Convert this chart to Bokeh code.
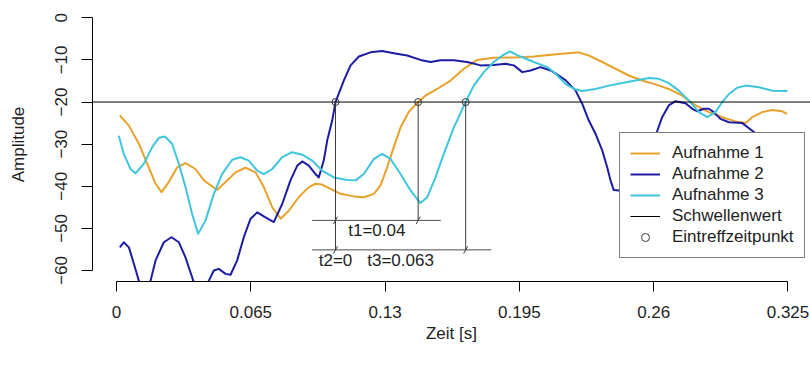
from bokeh.plotting import figure
from bokeh.models import Range1d, FixedTicker, Legend, LegendItem
from bokeh.embed import file_html
from bokeh.resources import INLINE
from bokeh.core.properties import value

# --- Aufnahme 1 (orange) ---
zeit_1 = [0.0016, 0.006, 0.0108, 0.0149, 0.0189, 0.0218, 0.0253, 0.0294, 0.0334, 0.0382,
          0.0423, 0.0487, 0.0528, 0.0576, 0.0624, 0.0673, 0.0713, 0.0754, 0.0794, 0.0834,
          0.0882, 0.0931, 0.0963, 0.0995, 0.1036, 0.1084, 0.1149, 0.1197, 0.1246, 0.1278,
          0.131, 0.1342, 0.1375, 0.1415, 0.146, 0.1495, 0.1552, 0.1617, 0.1681, 0.1746,
          0.1826, 0.1923, 0.202, 0.2117, 0.2238, 0.2286, 0.2351, 0.2415, 0.248, 0.2544,
          0.2609, 0.2673, 0.2738, 0.2803, 0.2867, 0.2932, 0.2996, 0.3045, 0.3077, 0.3125,
          0.3174, 0.3222, 0.3246]
ampl_1 = [-23.2, -25.6, -29.9, -34.7, -39.4, -41.4, -39.0, -35.5, -34.5, -35.9,
          -38.6, -40.9, -39.0, -36.7, -35.6, -36.7, -40.2, -45.0, -47.7, -45.8,
          -42.6, -40.2, -39.4, -39.6, -40.6, -41.8, -42.4, -42.6, -41.8, -39.8,
          -35.5, -30.7, -26.0, -22.3, -20.0, -18.5, -16.9, -14.9, -12.1, -10.0,
          -9.5, -9.4, -9.2, -8.7, -8.2, -8.95, -10.5, -12.1, -13.7, -14.9,
          -15.8, -16.9, -18.5, -20.8, -22.4, -23.6, -24.6, -25.0, -23.6, -22.4,
          -21.9, -22.2, -22.8]

# --- Aufnahme 2 (dunkelblau) ---
zeit_2 = [0.0016, 0.0035, 0.006, 0.0084, 0.0108, 0.0135, 0.0165, 0.0189, 0.0229, 0.0266,
          0.0302, 0.0334, 0.0366, 0.0395, 0.0425, 0.0447, 0.0471, 0.0495, 0.0528, 0.0552,
          0.0584, 0.0616, 0.0649, 0.0681, 0.0721, 0.0761, 0.0802, 0.0842, 0.0875, 0.0899,
          0.0931, 0.0963, 0.0979, 0.1003, 0.102, 0.1044, 0.106, 0.110, 0.1133, 0.1173,
          0.1229, 0.1286, 0.1342, 0.1407, 0.1471, 0.152, 0.1568, 0.1633, 0.1697, 0.1762,
          0.1826, 0.1883, 0.1923, 0.1964, 0.2004, 0.2052, 0.2101, 0.2125, 0.2149, 0.2173,
          0.2222, 0.2254, 0.2286, 0.2319, 0.2351, 0.2375, 0.2391, 0.2407, 0.2431, 0.248,
          0.2545, 0.2609, 0.2641, 0.2673, 0.2706, 0.2754, 0.2787, 0.2811, 0.2843, 0.2867,
          0.2891, 0.2923, 0.2964, 0.3029, 0.3077, 0.311, 0.318, 0.325]
ampl_2 = [-54.5, -53.3, -54.5, -58.4, -62.4, -67.0, -62.4, -57.6, -53.3, -52.1,
          -53.3, -56.9, -61.6, -66.0, -65.0, -62.4, -60.0, -59.6, -60.8, -61.0,
          -57.6, -52.1, -47.7, -46.2, -47.4, -48.5, -44.2, -38.6, -35.1, -34.1,
          -35.1, -37.1, -37.9, -33.9, -29.1, -24.4, -20.0, -14.9, -11.3, -9.2,
          -8.2, -7.9, -8.4, -8.95, -10.0, -10.5, -10.1, -10.1, -10.5, -11.3,
          -11.2, -10.9, -11.3, -12.9, -12.5, -11.7, -12.5, -13.2, -14.0, -14.8,
          -17.3, -20.4, -24.4, -27.6, -31.5, -35.5, -38.6, -40.9, -41.0, -40.0,
          -35.5, -28.0, -23.6, -20.8, -19.8, -20.3, -21.6, -22.2, -21.6, -21.6,
          -22.4, -24.0, -24.8, -25.0, -26.8, -28.0, -31.0, -33.0]

# --- Aufnahme 3 (türkis) ---
zeit_3 = [0.0011, 0.0035, 0.0068, 0.0092, 0.0132, 0.0173, 0.0205, 0.0234, 0.0269, 0.0302,
          0.0334, 0.0366, 0.0395, 0.0431, 0.0471, 0.0511, 0.056, 0.060, 0.064, 0.0681,
          0.0713, 0.0754, 0.0802, 0.085, 0.0899, 0.0947, 0.0996, 0.1052, 0.1117, 0.1157,
          0.1197, 0.1246, 0.1286, 0.1326, 0.1375, 0.1423, 0.1471, 0.1504, 0.1544, 0.1584,
          0.1633, 0.169, 0.1729, 0.1778, 0.1826, 0.1867, 0.1904, 0.1955, 0.202, 0.2085,
          0.2125, 0.2173, 0.2214, 0.2254, 0.2319, 0.2383, 0.2448, 0.2512, 0.2577, 0.2625,
          0.2673, 0.2722, 0.277, 0.2819, 0.2859, 0.2899, 0.2932, 0.2964, 0.3004, 0.3045,
          0.3109, 0.3174, 0.3246]
ampl_3 = [-28.0, -32.3, -35.9, -36.9, -34.7, -30.7, -28.5, -28.2, -29.9, -34.7,
          -40.2, -46.6, -51.3, -48.1, -41.8, -37.1, -33.7, -33.1, -33.9, -36.3,
          -37.1, -35.9, -33.1, -31.9, -32.5, -33.9, -36.3, -37.9, -38.5, -38.6,
          -37.1, -33.5, -32.3, -33.5, -37.1, -41.0, -44.0, -42.6, -37.9, -32.3,
          -26.0, -20.0, -16.1, -12.9, -10.5, -9.0, -8.0, -9.2, -10.5, -11.7,
          -13.3, -15.7, -16.9, -17.4, -16.9, -16.1, -15.5, -14.9, -14.3, -14.5,
          -15.5, -17.3, -19.6, -22.4, -23.6, -22.4, -20.0, -18.1, -16.6, -16.1,
          -16.5, -17.3, -17.4]

schwellenwert = -20

# Eintreffzeitpunkte, relativ zu t2 beschriftet
ankunft_namen = ["t1", "t2", "t3"]
ankunft_zeiten = [0.146, 0.106, 0.169]
referenz_name = "t2"
# Hilfslinien unter den Eintreffzeitpunkten
hilfslinie_y = [-48.1, -55.1]
hilfslinie_x0 = [0.0947, 0.0947]
hilfslinie_x1 = [0.157, 0.1814]
ankunft_hilfslinie = [0, 1, 1]

x_ticks = [0, 0.065, 0.13, 0.195, 0.26, 0.325]
x_tick_labels = ["0", "0.065", "0.13", "0.195", "0.26", "0.325"]
y_ticks = [-60, -50, -40, -30, -20, -10, 0]

farbe_1 = "#E8A22C"
farbe_2 = "#1C1CA3"
farbe_3 = "#3FC5DC"
FONT = "Liberation Sans"
TEXT = "#1e1e1e"

x_range = Range1d(-0.01162, 0.3359)
y_range = Range1d(-62.61, 2.445)

p = figure(width=810, height=365, x_range=x_range, y_range=y_range,
           output_backend="svg", toolbar_location=None,
           min_border_left=92, min_border_right=0, min_border_top=7, min_border_bottom=84)
p.outline_line_color = None
p.grid.visible = False
p.background_fill_color = "white"
p.border_fill_color = "white"

r1 = p.line(zeit_1, ampl_1, line_color=farbe_1, line_width=2, line_join="round")
r2 = p.line(zeit_2, ampl_2, line_color=farbe_2, line_width=2, line_join="round")
r3 = p.line(zeit_3, ampl_3, line_color=farbe_3, line_width=2, line_join="round")
r_schwelle = p.line([x_range.start, x_range.end], [schwellenwert, schwellenwert],
                    line_color="black", line_width=1)

# senkrechte Linien vom Eintreffzeitpunkt zur Hilfslinie
p.segment(x0=ankunft_zeiten, y0=[schwellenwert] * 3, x1=ankunft_zeiten,
          y1=[hilfslinie_y[i] for i in ankunft_hilfslinie], line_color="#3c3c3c", line_width=1)
p.segment(x0=hilfslinie_x0, y0=hilfslinie_y, x1=hilfslinie_x1, y1=hilfslinie_y,
          line_color="#4a4a4a", line_width=1)

# kleine Schrägstriche an den Kreuzungen
kx, ky = [], []
for t, k in zip(ankunft_zeiten, ankunft_hilfslinie):
    for j, yl in enumerate(hilfslinie_y):
        if yl >= hilfslinie_y[k] and hilfslinie_x0[j] <= t <= hilfslinie_x1[j]:
            kx.append(t)
            ky.append(yl)
p.scatter(kx, ky, marker="dash", size=8.5, angle=1.07, line_color="#3c3c3c", line_width=1)

r_punkte = p.scatter(ankunft_zeiten, [schwellenwert] * 3, marker="circle", size=7,
                     fill_color=None, line_color="#333333", line_width=1)

# Beschriftung der Laufzeitdifferenzen
t_ref = ankunft_zeiten[ankunft_namen.index(referenz_name)]
lab_x, lab_y, lab_txt = [], [], []
for n, t, k in zip(ankunft_namen, ankunft_zeiten, ankunft_hilfslinie):
    d = round(t - t_ref, 3)
    lab_txt.append(f"{n}={d:g}")
    lab_x.append((t + t_ref) / 2)
    lab_y.append(hilfslinie_y[k] - 2.5)
p.text(x=lab_x, y=lab_y, text=lab_txt, text_font=value(FONT), text_font_size="17px",
       text_align="center", text_baseline="middle", text_color=TEXT)

# Achsen
xa = p.xaxis[0]
xa.ticker = FixedTicker(ticks=x_ticks)
xa.major_label_overrides = {t: l for t, l in zip(x_ticks, x_tick_labels)}
xa.bounds = (x_ticks[0], x_ticks[-1])
xa.axis_label = "Zeit [s]"
xa.major_tick_out = 10
xa.major_label_standoff = 14
xa.axis_label_standoff = 3

ya = p.yaxis[0]
ya.ticker = FixedTicker(ticks=y_ticks)
ya.bounds = (y_ticks[0], y_ticks[-1])
ya.axis_label = "Amplitude"
ya.major_label_orientation = "vertical"
ya.major_tick_out = 11
ya.major_label_standoff = 14
ya.axis_label_standoff = 25

for ax in (xa, ya):
    ax.minor_tick_line_color = None
    ax.major_tick_in = 0
    ax.axis_line_color = "black"
    ax.major_tick_line_color = "black"
    ax.major_label_text_font = FONT
    ax.major_label_text_font_size = "17px"
    ax.major_label_text_color = TEXT
    ax.axis_label_text_font = FONT
    ax.axis_label_text_font_size = "17px"
    ax.axis_label_text_font_style = "normal"
    ax.axis_label_text_color = TEXT

legend = Legend(items=[
    LegendItem(label="Aufnahme 1", renderers=[r1]),
    LegendItem(label="Aufnahme 2", renderers=[r2]),
    LegendItem(label="Aufnahme 3", renderers=[r3]),
    LegendItem(label="Schwellenwert", renderers=[r_schwelle]),
    LegendItem(label="Eintreffzeitpunkt", renderers=[r_punkte]),
], location=(527, 23))
legend.border_line_color = "black"
legend.border_line_width = 1
legend.background_fill_color = "white"
legend.background_fill_alpha = 1
legend.label_text_font = FONT
legend.label_text_font_size = "17px"
legend.label_text_color = TEXT
legend.glyph_width = 30
legend.glyph_height = 20
legend.label_height = 20
legend.spacing = 1
legend.padding = 10
legend.label_standoff = 12
legend.margin = 0
p.add_layout(legend)

open("out.html", "w").write(file_html(p, INLINE))
